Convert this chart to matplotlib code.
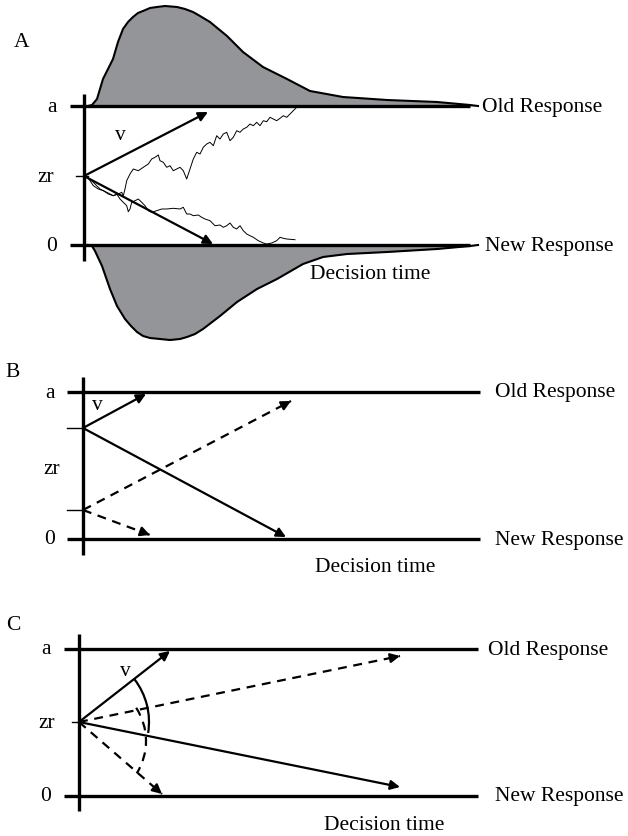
import numpy as np
import matplotlib
matplotlib.use('Agg')
import matplotlib.pyplot as plt
from matplotlib.patches import Arc

plt.rcParams['font.family'] = ['Liberation Serif', 'DejaVu Serif']

# tout est en coordonnees pixel de l'image (y vers le bas)
W, H = 628, 837
FS = 15.5
GRIS = '#939598'

# ---------------- panneau A ----------------
A_haut, A_zr, A_bas = 107, 177, 246
A_axe_x = 84
A_axe_y = [95, 262]
A_xmin, A_xmax = 70, 470

# distribution des temps de reponse "old" (au dessus de a)
dens_haut_x = [88, 92, 97, 103, 108, 113, 118, 123, 128, 133, 138, 143, 150, 157, 165,
               177, 185, 193, 200, 210, 227, 243, 263, 287, 310, 343, 387, 437, 470, 478]
dens_haut_y = [107, 106, 100, 80, 70, 60, 43, 30, 23, 18, 14, 12, 9, 8, 7,
               8, 10, 13, 17, 23, 37, 53, 68, 80, 92, 98, 101, 103, 106, 107]
# distribution des temps de reponse "new" (en dessous de 0)
dens_bas_x = [88, 92, 95, 102, 110, 117, 125, 131, 137, 143, 150, 160, 170, 180, 187,
              195, 203, 220, 237, 257, 277, 303, 323, 347, 387, 437, 470, 478]
dens_bas_y = [246, 247, 252, 267, 290, 307, 320, 327, 333, 337, 339, 340, 341, 340, 338,
              335, 330, 317, 303, 290, 280, 265, 258, 255, 253, 250, 247, 246]

# marches aleatoires
marche1_x = [86.7, 93.3, 100, 106.7, 113.3, 118.3, 121.7, 123.3, 125, 126.7, 130, 133.3,
             138.3, 143.3, 148.3, 151.7, 155, 158.3, 160, 163.3, 166.7, 170, 173.3, 176.7,
             180, 183.3, 186.7, 190, 193.3, 196.7, 200, 203.3, 206.7, 210, 213.3, 216.7,
             220, 223.3, 226.7, 230, 233.3, 236.7, 240, 243.3, 246.7, 250, 253.3, 256.7,
             260, 263.3, 266.7, 270, 273.3, 276.7, 280, 283.3, 286.7, 290, 293.3, 296.7, 298.3]
marche1_y = [177.3, 183.3, 190, 193.3, 196.7, 195, 193.3, 196.7, 190, 181.7, 175, 170,
             171.7, 168.3, 165, 160, 158.3, 156, 161.7, 163.3, 168.3, 166.7, 171.7, 170,
             168.3, 171.7, 180, 170, 160, 153.3, 155, 148.3, 145, 143.3, 146.7, 136.7,
             140, 135, 133.3, 141.7, 138.3, 131.7, 133.3, 130, 128.3, 125, 126.7, 123.3,
             126.7, 121.7, 122.7, 118.3, 120, 121.7, 119.3, 116.7, 118.3, 115, 111.7, 108.3, 107.3]
marche2_x = [86.7, 90, 93.3, 98.3, 103.3, 108.3, 113.3, 116.7, 120, 123.3, 126.7, 128.3,
             130, 131.7, 135, 138.3, 141.7, 145, 148.3, 151.7, 156.7, 161.7, 166.7, 173.3,
             180, 183.3, 186.7, 190, 193.3, 198.3, 201.7, 205, 210, 215, 220, 223.3,
             226.7, 230, 233.3, 236.7, 240, 243.3, 246.7, 250, 253.3, 258.3, 263.3, 266.7,
             271.7, 276.7, 280, 283.3, 286.7, 295]
marche2_y = [177.3, 181.7, 186.7, 190, 191.7, 195, 196.7, 195, 200, 203.3, 206.7, 212.7,
             210, 203.3, 201.7, 200, 203.3, 206.7, 211.7, 213.3, 211.7, 210, 210, 209.3,
             210, 208.3, 215, 215, 216.7, 216, 218.3, 220, 221.7, 226.7, 226, 228.3,
             226.7, 224, 228.3, 230, 226.7, 231.7, 235, 236.7, 238.3, 241.7, 244, 245,
             244, 241.7, 238.3, 239.3, 240, 240.7]

# fleches de derive (debut, fin)
A_fleches = [((84, 177), (208, 113)), ((84, 177), (213, 245))]

# ---------------- panneau B ----------------
B_haut, B_bas = 393, 540
B_zr = [429, 511]
B_axe_x = 83
B_axe_y = [378, 556]
B_xmin, B_xmax = 67, 480
B_pleines = [((83, 429), (146, 395)), ((83, 429), (286, 538))]
B_tirets = [((83, 511), (291, 402)), ((83, 511), (150, 536))]

# ---------------- panneau C ----------------
C_haut, C_zr, C_bas = 650, 723, 797
C_axe_x = 79
C_axe_y = [635, 812]
C_xmin, C_xmax = 64, 478
C_pleines = [((79, 723), (170, 652)), ((79, 723), (400, 788))]
C_tirets = [((79, 723), (400, 657)), ((79, 723), (162, 795))]
# arcs : centre, rayon, angle debut, angle fin
C_arc_plein = ((79, 723), 70, -37.5, 9)
C_arc_tirets = ((85, 742), 61, -33, 32)


fig = plt.figure(figsize=(W / 100, H / 100), dpi=100)
ax = fig.add_axes([0, 0, 1, 1])
ax.set_xlim(0, W)
ax.set_ylim(H, 0)
ax.set_aspect('equal')
ax.axis('off')

LW_BORD = 2.4
LW_FL = 1.6
TETE = 14


def fleche(p0, p1, tirets=False):
    if tirets:
        ax.plot([p0[0], p1[0]], [p0[1], p1[1]], color='k', lw=LW_FL, dashes=(4, 3))
        # petite tete pleine au bout
        d = np.array(p1) - np.array(p0)
        d = d / np.hypot(*d)
        q = np.array(p1) - 10 * d
        ax.annotate('', xy=p1, xytext=q,
                    arrowprops=dict(arrowstyle='-|>', color='k', lw=LW_FL,
                                    mutation_scale=TETE, shrinkA=0, shrinkB=0))
    else:
        ax.annotate('', xy=p1, xytext=p0,
                    arrowprops=dict(arrowstyle='-|>', color='k', lw=LW_FL,
                                    mutation_scale=TETE, shrinkA=0, shrinkB=0))


def cadre(haut, bas, xmin, xmax, axe_x, axe_y):
    ax.plot([xmin, xmax], [haut, haut], color='k', lw=LW_BORD, solid_capstyle='butt')
    ax.plot([xmin, xmax], [bas, bas], color='k', lw=LW_BORD, solid_capstyle='butt')
    ax.plot([axe_x, axe_x], axe_y, color='k', lw=LW_BORD, solid_capstyle='butt')


# ---- A ----
ax.fill_between(dens_haut_x, dens_haut_y, A_haut, color=GRIS, lw=0)
ax.plot(dens_haut_x, dens_haut_y, color='k', lw=1.5)
ax.fill_between(dens_bas_x, dens_bas_y, A_bas, color=GRIS, lw=0)
ax.plot(dens_bas_x, dens_bas_y, color='k', lw=1.5)
cadre(A_haut, A_bas, A_xmin, A_xmax, A_axe_x, A_axe_y)
ax.plot([76, 88], [A_zr, A_zr], color='k', lw=1)
ax.plot(marche1_x, marche1_y, color='k', lw=0.7)
ax.plot(marche2_x, marche2_y, color='k', lw=0.7)
for p0, p1 in A_fleches:
    fleche(p0, p1)
ax.text(14, 42, 'A', fontsize=FS, va='center')
ax.text(52, A_haut, 'a', fontsize=FS, va='center', ha='center')
ax.text(46, A_zr, 'zr', fontsize=FS, va='center', ha='center')
ax.text(52, A_bas, '0', fontsize=FS, va='center', ha='center')
ax.text(120, 135, 'v', fontsize=FS, va='center', ha='center')
ax.text(482, A_haut, 'Old Response', fontsize=FS, va='center')
ax.text(485, A_bas, 'New Response', fontsize=FS, va='center')
ax.text(370, 274, 'Decision time', fontsize=FS, va='center', ha='center')

# ---- B ----
cadre(B_haut, B_bas, B_xmin, B_xmax, B_axe_x, B_axe_y)
for z in B_zr:
    ax.plot([67, B_axe_x], [z, z], color='k', lw=1)
for p0, p1 in B_pleines:
    fleche(p0, p1)
for p0, p1 in B_tirets:
    fleche(p0, p1, tirets=True)
ax.text(13, 372, 'B', fontsize=FS, va='center', ha='center')
ax.text(50, B_haut, 'a', fontsize=FS, va='center', ha='center')
ax.text(52, 469, 'zr', fontsize=FS, va='center', ha='center')
ax.text(50, B_bas, '0', fontsize=FS, va='center', ha='center')
ax.text(97, 406, 'v', fontsize=FS, va='center', ha='center')
ax.text(495, B_haut, 'Old Response', fontsize=FS, va='center')
ax.text(495, B_bas, 'New Response', fontsize=FS, va='center')
ax.text(375, 567, 'Decision time', fontsize=FS, va='center', ha='center')

# ---- C ----
cadre(C_haut, C_bas, C_xmin, C_xmax, C_axe_x, C_axe_y)
ax.plot([72, C_axe_x], [C_zr, C_zr], color='k', lw=1)
for p0, p1 in C_pleines:
    fleche(p0, p1)
for p0, p1 in C_tirets:
    fleche(p0, p1, tirets=True)
(cx, cy), r, t1, t2 = C_arc_plein
ax.add_patch(Arc((cx, cy), 2 * r, 2 * r, theta1=t1, theta2=t2, color='k', lw=LW_FL))
(cx, cy), r, t1, t2 = C_arc_tirets
ax.add_patch(Arc((cx, cy), 2 * r, 2 * r, theta1=t1, theta2=t2, color='k', lw=LW_FL,
                 linestyle=(0, (4, 3))))
ax.text(13, 625, 'C', fontsize=FS, va='center', ha='center')
ax.text(46, C_haut, 'a', fontsize=FS, va='center', ha='center')
ax.text(47, C_zr, 'zr', fontsize=FS, va='center', ha='center')
ax.text(46, C_bas, '0', fontsize=FS, va='center', ha='center')
ax.text(125, 671, 'v', fontsize=FS, va='center', ha='center')
ax.text(488, C_haut, 'Old Response', fontsize=FS, va='center')
ax.text(495, C_bas, 'New Response', fontsize=FS, va='center')
ax.text(384, 826, 'Decision time', fontsize=FS, va='center', ha='center')

fig.savefig('out.png', dpi=100)
